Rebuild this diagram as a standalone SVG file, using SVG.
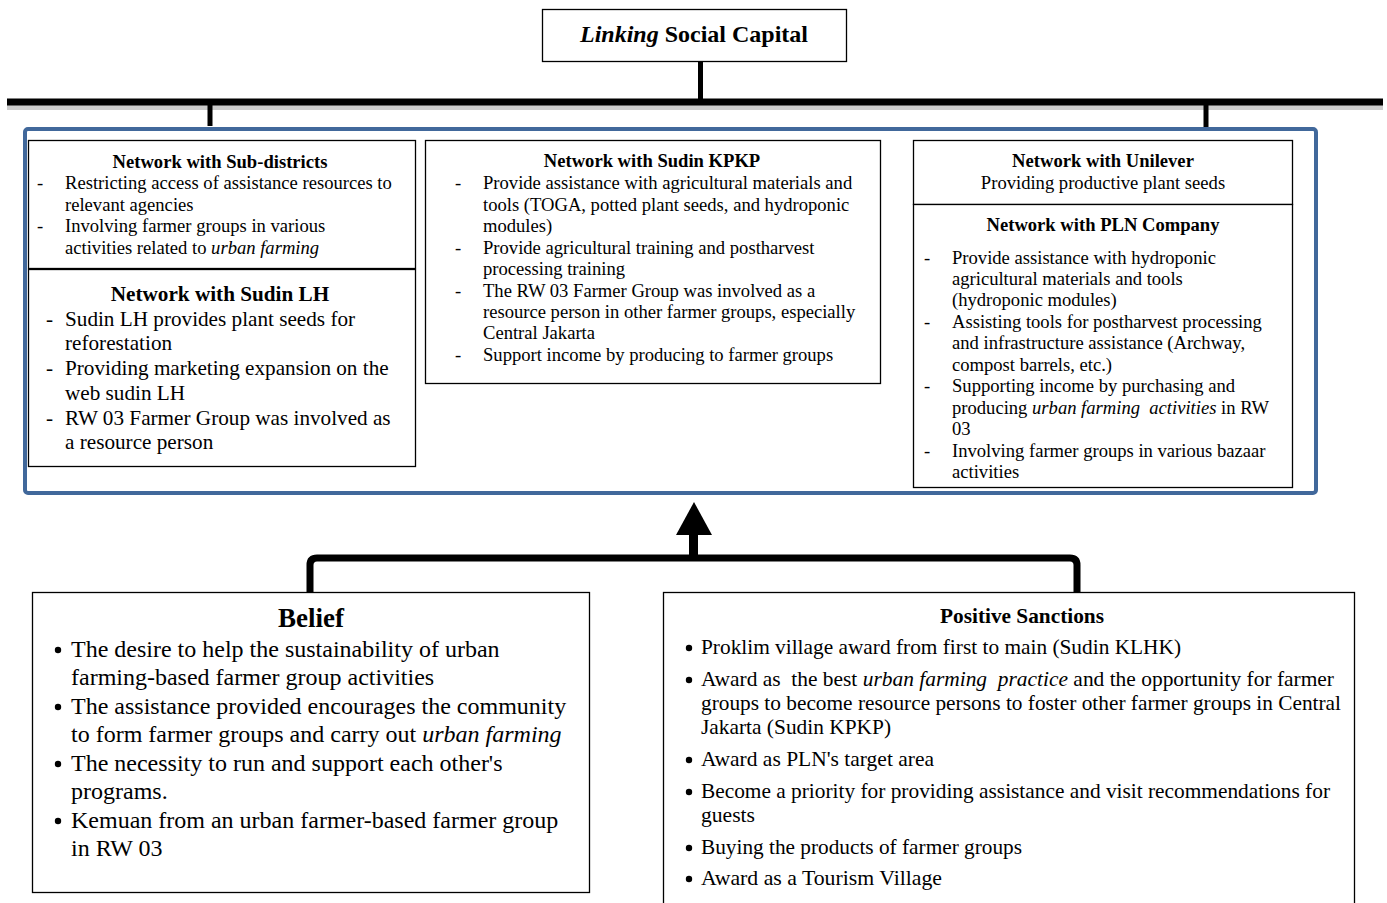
<svg xmlns="http://www.w3.org/2000/svg" width="1387" height="903" viewBox="0 0 1387 903">
<style>
text{font-family:"Liberation Serif","Times New Roman",serif;fill:#000}
.b{font-weight:bold}
.box{fill:#fff;stroke:#000;stroke-width:1.3}
.t16{font-size:18.6px}
.t20{font-size:21.2px}
.t22{font-size:24px}
.t21{font-size:22px}
.c{text-anchor:middle}
.conn{fill:none;stroke:#000;stroke-linejoin:round}
</style>
<rect width="1387" height="903" fill="#fff"/>

<g id="connectors">
  <rect x="7" y="104" width="1376" height="6" fill="#ccc"/>
  <line x1="7" y1="102" x2="1383" y2="102" stroke="#000" stroke-width="7"/>
  <line x1="700.5" y1="61" x2="700.5" y2="100" stroke="#000" stroke-width="5"/>
  <line x1="210" y1="104" x2="210" y2="126" stroke="#000" stroke-width="5"/>
  <line x1="1206" y1="104" x2="1206" y2="130" stroke="#000" stroke-width="5"/>
  <path class="conn" d="M310,593 L310,565 Q310,558 317,558 L1070,558 Q1077,558 1077,565 L1077,593" stroke-width="7"/>
  <line x1="693.5" y1="560" x2="693.5" y2="533" stroke="#000" stroke-width="9"/>
  <polygon points="676,535 712,535 694,502" fill="#000"/>
</g>

<g id="title">
  <rect class="box" x="542.5" y="9.5" width="304" height="52"/>
  <text x="694" y="42" class="b c" font-size="24"><tspan font-style="italic">Linking</tspan> Social Capital</text>
</g>

<g id="container">
  <rect x="25" y="129" width="1291" height="364" rx="3" fill="none" stroke="#41689b" stroke-width="4"/>
</g>

<g id="subdistricts">
  <rect class="box" x="28.5" y="140.5" width="387" height="128"/>
  <text x="220" y="168" class="b c t16">Network with Sub-districts</text>
  <g class="t16">
    <text x="37" y="189">-</text><text x="65" y="189">Restricting access of assistance resources to</text>
    <text x="65" y="211">relevant agencies</text>
    <text x="37" y="232">-</text><text x="65" y="232">Involving farmer groups in various</text>
    <text x="65" y="254">activities related to <tspan font-style="italic">urban farming</tspan></text>
  </g>
</g>

<g id="sudinlh">
  <rect class="box" x="28.5" y="269.5" width="387" height="197"/>
  <text x="220" y="301" class="b c t20">Network with Sudin LH</text>
  <g class="t20">
    <text x="46" y="326">-</text><text x="65" y="326">Sudin LH provides plant seeds for</text>
    <text x="65" y="350">reforestation</text>
    <text x="46" y="375">-</text><text x="65" y="375">Providing marketing expansion on the</text>
    <text x="65" y="400">web sudin LH</text>
    <text x="46" y="425">-</text><text x="65" y="425">RW 03 Farmer Group was involved as</text>
    <text x="65" y="449">a resource person</text>
  </g>
</g>

<g id="sudinkpkp">
  <rect class="box" x="425.5" y="140.5" width="455" height="243"/>
  <text x="652" y="167" class="b c t16">Network with Sudin KPKP</text>
  <g class="t16">
    <text x="455" y="189">-</text><text x="483" y="189">Provide assistance with agricultural materials and</text>
    <text x="483" y="211">tools (TOGA, potted plant seeds, and hydroponic</text>
    <text x="483" y="232">modules)</text>
    <text x="455" y="254">-</text><text x="483" y="254">Provide agricultural training and postharvest</text>
    <text x="483" y="275">processing training</text>
    <text x="455" y="297">-</text><text x="483" y="297">The RW 03 Farmer Group was involved as a</text>
    <text x="483" y="318">resource person in other farmer groups, especially</text>
    <text x="483" y="339">Central Jakarta</text>
    <text x="455" y="361">-</text><text x="483" y="361">Support income by producing to farmer groups</text>
  </g>
</g>

<g id="unilever">
  <rect class="box" x="913.5" y="140.5" width="379" height="64"/>
  <text x="1103" y="167" class="b c t16">Network with Unilever</text>
  <text x="1103" y="189" class="c t16">Providing productive plant seeds</text>
</g>

<g id="pln">
  <rect class="box" x="913.5" y="204.5" width="379" height="283"/>
  <text x="1103" y="231" class="b c t16">Network with PLN Company</text>
  <g class="t16">
    <text x="924" y="264">-</text><text x="952" y="264">Provide assistance with hydroponic</text>
    <text x="952" y="285">agricultural materials and tools</text>
    <text x="952" y="306">(hydroponic modules)</text>
    <text x="924" y="328">-</text><text x="952" y="328">Assisting tools for postharvest processing</text>
    <text x="952" y="349">and infrastructure assistance (Archway,</text>
    <text x="952" y="371">compost barrels, etc.)</text>
    <text x="924" y="392">-</text><text x="952" y="392">Supporting income by purchasing and</text>
    <text x="952" y="414" xml:space="preserve">producing <tspan font-style="italic">urban farming  activities</tspan> in RW</text>
    <text x="952" y="435">03</text>
    <text x="924" y="457">-</text><text x="952" y="457">Involving farmer groups in various bazaar</text>
    <text x="952" y="478">activities</text>
  </g>
</g>

<g id="belief">
  <rect class="box" x="32.5" y="592.5" width="557" height="300"/>
  <text x="311" y="627" class="b c" font-size="27">Belief</text>
  <g class="t22">
    <circle cx="58" cy="650" r="3.2"/><text x="71" y="657">The desire to help the sustainability of urban</text>
    <text x="71" y="685">farming-based farmer group activities</text>
    <circle cx="58" cy="707" r="3.2"/><text x="71" y="714">The assistance provided encourages the community</text>
    <text x="71" y="742">to form farmer groups and carry out <tspan font-style="italic">urban farming</tspan></text>
    <circle cx="58" cy="764" r="3.2"/><text x="71" y="771">The necessity to run and support each other's</text>
    <text x="71" y="799">programs.</text>
    <circle cx="58" cy="821" r="3.2"/><text x="71" y="828">Kemuan from an urban farmer-based farmer group</text>
    <text x="71" y="856">in RW 03</text>
  </g>
</g>

<g id="sanctions">
  <rect class="box" x="663.5" y="592.5" width="691" height="320"/>
  <text x="1022" y="623" class="b c" font-size="22" textLength="164" lengthAdjust="spacingAndGlyphs">Positive Sanctions</text>
  <g class="t21">
    <circle cx="689" cy="648" r="3.2"/><text x="701" y="654" textLength="480" lengthAdjust="spacingAndGlyphs">Proklim village award from first to main (Sudin KLHK)</text>
    <circle cx="689" cy="680" r="3.2"/><text x="701" y="686" textLength="633" lengthAdjust="spacingAndGlyphs" xml:space="preserve">Award as  the best <tspan font-style="italic">urban farming  practice</tspan> and the opportunity for farmer</text>
    <text x="701" y="710" textLength="640" lengthAdjust="spacingAndGlyphs">groups to become resource persons to foster other farmer groups in Central</text>
    <text x="701" y="734" textLength="190" lengthAdjust="spacingAndGlyphs">Jakarta (Sudin KPKP)</text>
    <circle cx="689" cy="760" r="3.2"/><text x="701" y="766" textLength="233" lengthAdjust="spacingAndGlyphs">Award as PLN's target area</text>
    <circle cx="689" cy="792" r="3.2"/><text x="701" y="798" textLength="629" lengthAdjust="spacingAndGlyphs">Become a priority for providing assistance and visit recommendations for</text>
    <text x="701" y="822" textLength="54" lengthAdjust="spacingAndGlyphs">guests</text>
    <circle cx="689" cy="848" r="3.2"/><text x="701" y="854" textLength="321" lengthAdjust="spacingAndGlyphs">Buying the products of farmer groups</text>
    <circle cx="689" cy="879" r="3.2"/><text x="701" y="885" textLength="241" lengthAdjust="spacingAndGlyphs">Award as a Tourism Village</text>
  </g>
</g>
</svg>
